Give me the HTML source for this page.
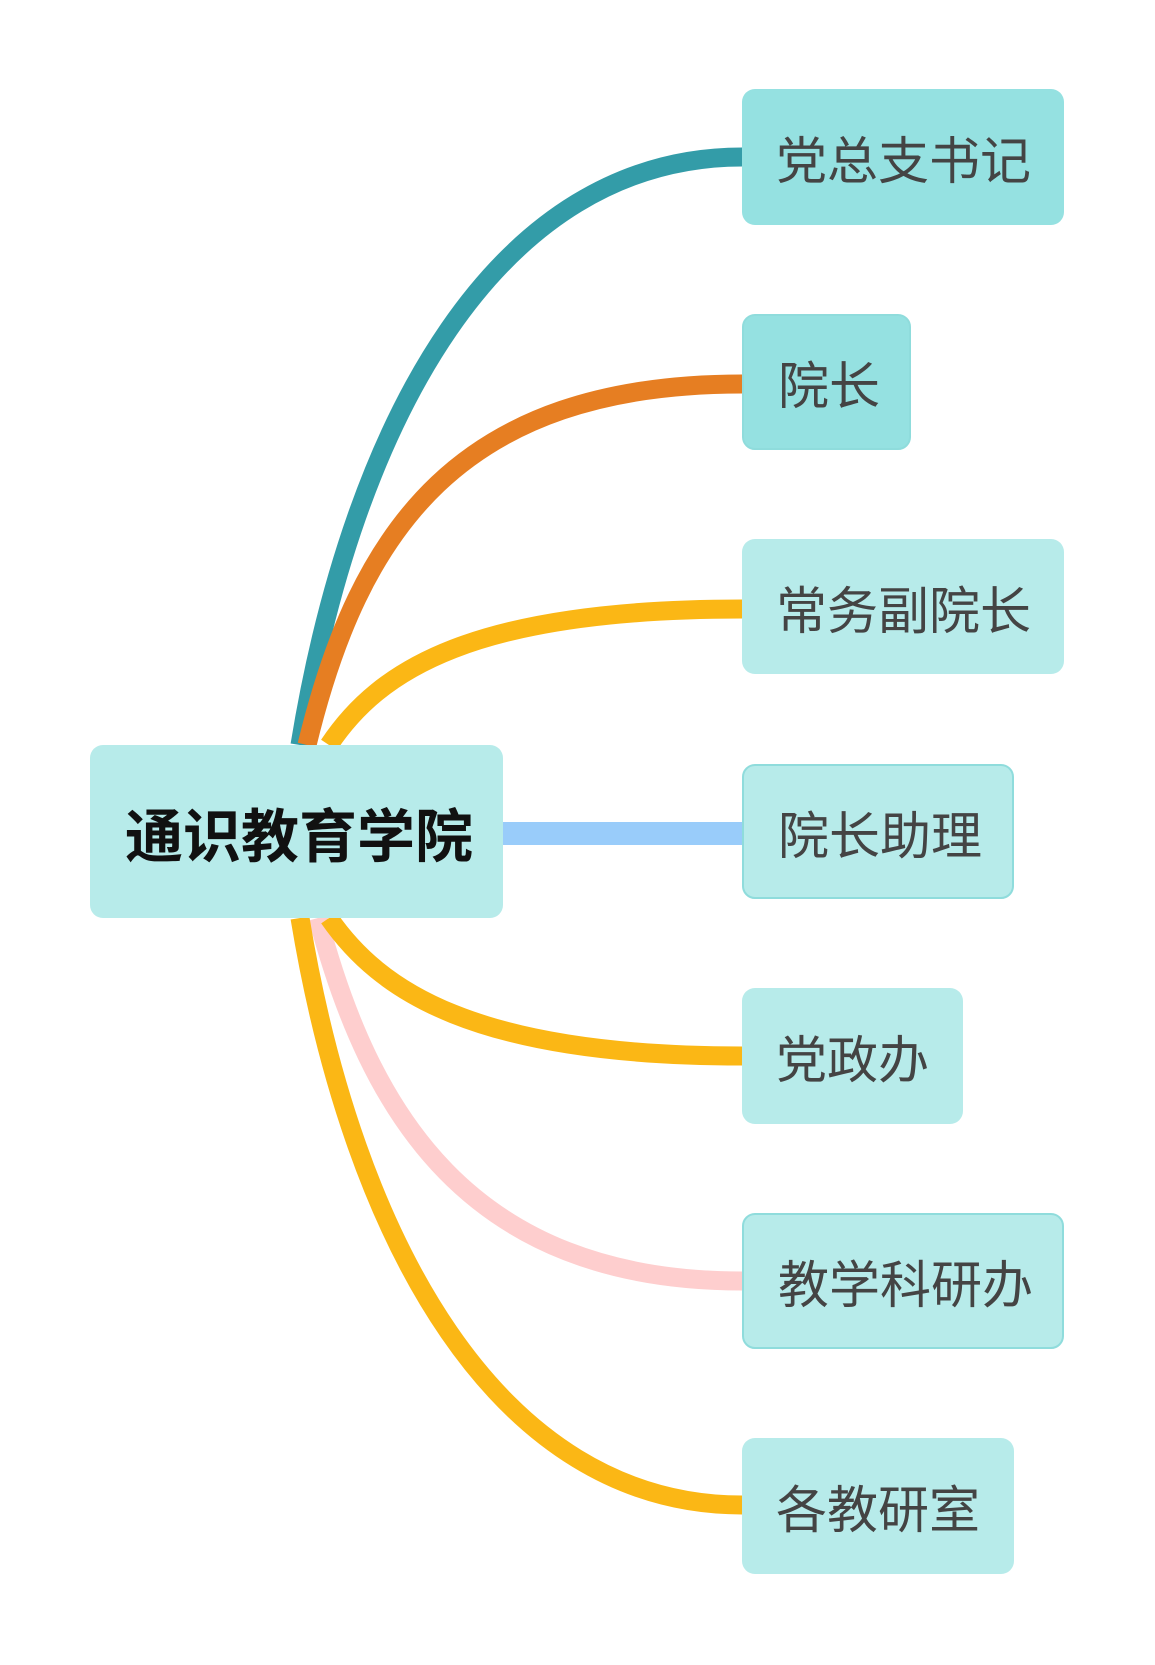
<!DOCTYPE html>
<html><head><meta charset="utf-8"><style>
body{margin:0;width:1155px;height:1665px;background:#fff;position:relative;overflow:hidden;font-family:"Liberation Sans","Noto Sans CJK SC",sans-serif}
.n{position:absolute;box-sizing:border-box;border-radius:13px;background:#b7ebea;color:#444;font-size:51px;display:flex;align-items:center;padding-left:34px;white-space:nowrap}
.d{background:#95e1e1}
.b{border:2px solid #8fdcdc}
svg{position:absolute;left:0;top:0}
</style></head><body>
<svg width="1155" height="1665">
<g fill="none" stroke-width="19">
<path d="M300,745 C353,420 497,157 742,157" stroke="#339ca8"/>
<path d="M307,745 C359,530 459,384 742,384" stroke="#e67e22"/>
<path d="M329,745 C379,670 473,609 742,609" stroke="#fbb715"/>
<path d="M318,918 C369,1110 467,1281 742,1281" stroke="#fecece"/>
<path d="M329,918 C379,990 473,1056 742,1056" stroke="#fbb715"/>
<path d="M300,918 C353,1240 497,1505 742,1505" stroke="#fbb715"/>
</g>
<rect x="500" y="822" width="245" height="23" fill="#99ccfa"/>
</svg>
<div class="n" style="left:90px;top:745px;width:413px;height:173px;font-size:58px;font-weight:bold;color:#111;padding-left:35px">通识教育学院</div>
<div class="n d" style="left:742px;top:89px;width:322px;height:136px">党总支书记</div>
<div class="n d b" style="left:742px;top:314px;width:169px;height:136px">院长</div>
<div class="n" style="left:742px;top:539px;width:322px;height:135px">常务副院长</div>
<div class="n b" style="left:742px;top:764px;width:272px;height:135px">院长助理</div>
<div class="n" style="left:742px;top:988px;width:221px;height:136px">党政办</div>
<div class="n b" style="left:742px;top:1213px;width:322px;height:136px">教学科研办</div>
<div class="n" style="left:742px;top:1438px;width:272px;height:136px">各教研室</div>
</body></html>
